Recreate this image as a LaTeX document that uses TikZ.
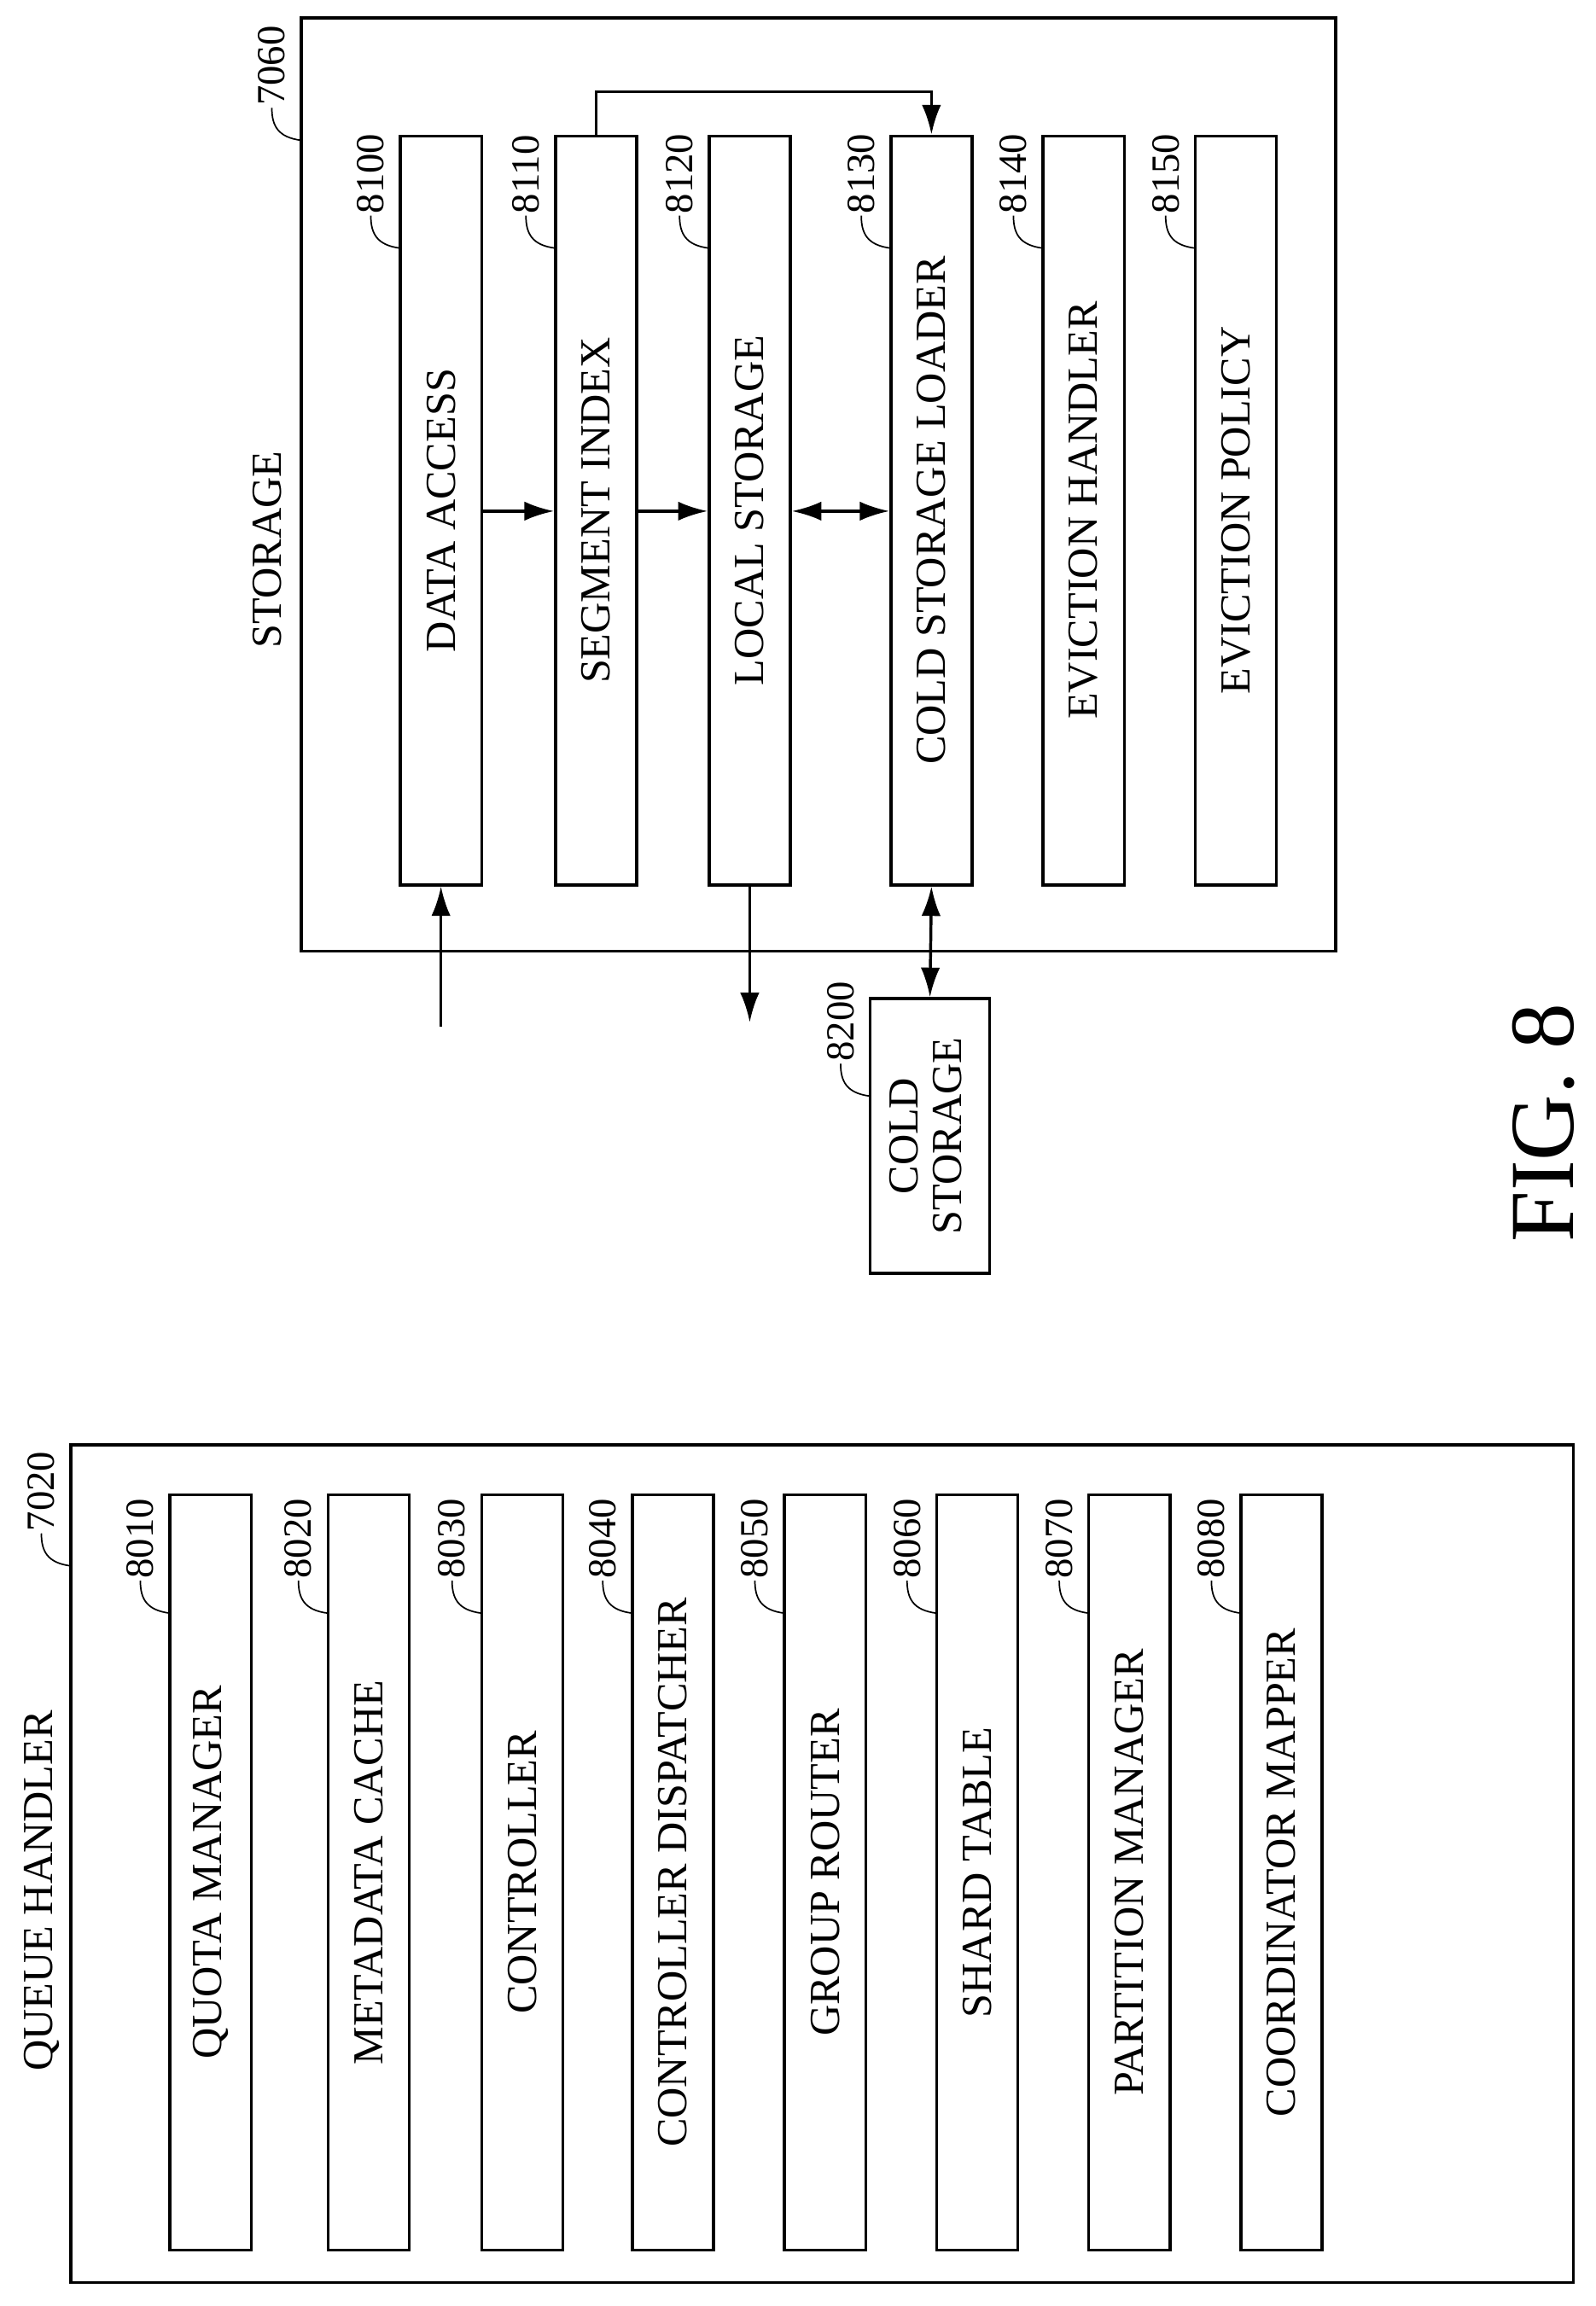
\documentclass[tikz,border=0pt]{standalone}
\usepackage{fontspec}
\setmainfont{Liberation Serif}
\usetikzlibrary{arrows.meta,positioning}

\newcommand{\refnum}[3]{% leader from box edge (#1,#2), number #3
  \draw[leader] (#1,#2) .. controls (#1-16,#2-2) and (#1-20,#2-10) .. (#1-20,#2-22)
    node[rotate=90,anchor=west,inner sep=1pt,font=\fontsize{27}{27}\selectfont] {#3};}

\begin{document}
\begin{tikzpicture}[x=1pt,y=-1pt,
    col/.style = {rectangle, draw, line width=2pt, minimum width=55pt, inner sep=0pt, font=\fontsize{29}{33}\selectfont},
    frame/.style = {draw, line width=2pt},
    leader/.style = {line width=1pt},
    arrow/.style = {-{Latex[length=20pt,width=13pt]}, line width=2pt},
    both/.style = {{Latex[length=20pt,width=13pt]}-{Latex[length=20pt,width=13pt]}, line width=2pt}
]
    \useasboundingbox (0,0) rectangle (1080,1561);

    % storage
    \draw[frame] (204,12) rectangle (904,644);
    \node[rotate=90,font=\fontsize{29}{33}\selectfont] (storagetxt) at (181,372) {STORAGE};
    \refnum{204}{95}{7060}
    \foreach \name/\x/\num/\txt in {access/298.5/8100/DATA ACCESS, segidx/403.5/8110/SEGMENT INDEX,
        local/507.5/8120/LOCAL STORAGE, loader/630.5/8130/COLD STORAGE LOADER,
        evhandler/733.5/8140/EVICTION HANDLER, evpolicy/836.5/8150/EVICTION POLICY} {
        \node[col, minimum height=507pt] (\name) at (\x,345.5) {\rotatebox{90}{\txt}};
        \refnum{\x-27.5}{168}{\num}
    }

    \node[col, minimum width=81pt, minimum height=186pt] (cold) at (629.5,769)
        {\rotatebox{90}{\begin{tabular}{c}COLD\\[-4pt] STORAGE\end{tabular}}};
    \refnum{589}{742}{8200}

    \coordinate (inpt) at (298.5,695);
    \coordinate (outpt) at (507.5,692);
    \coordinate (segtop) at (403.5,62);
    \coordinate (loadtop) at (630.5,62);

    \draw[arrow] (inpt) -- (access.south);
    \draw[arrow] (local.south) -- (outpt);
    \draw[both] (loader.south) -- (cold.north);
    \draw[arrow] (access.east |- 0,346) -- (segidx.west |- 0,346);
    \draw[arrow] (segidx.east |- 0,346) -- (local.west |- 0,346);
    \draw[both] (local.east |- 0,346) -- (loader.west |- 0,346);
    \draw[arrow] (segidx.north) -- (segtop) -- (loadtop) -- (loader.north);

    % queue handler
    \draw[frame] (48,978) rectangle (1065,1545);
    \node[rotate=90,font=\fontsize{29}{33}\selectfont] (queuetxt) at (28,1280) {QUEUE HANDLER};
    \refnum{48}{1060}{7020}
    \foreach \name/\x/\num/\txt in {quota/142.5/8010/QUOTA MANAGER, metacache/249.5/8020/METADATA CACHE,
        ctrl/353.5/8030/CONTROLLER, dispatch/455.5/8040/CONTROLLER DISPATCHER,
        router/558.5/8050/GROUP ROUTER, shard/661.5/8060/SHARD TABLE,
        partition/764.5/8070/PARTITION MANAGER, coord/867.5/8080/COORDINATOR MAPPER} {
        \node[col, minimum height=511pt] (\name) at (\x,1267.5) {\rotatebox{90}{\txt}};
        \refnum{\x-27.5}{1092}{\num}
    }

    \node[rotate=90,font=\fontsize{62}{62}\selectfont] (figtxt) at (1045,760) {FIG. 8};
\end{tikzpicture}
\end{document}
